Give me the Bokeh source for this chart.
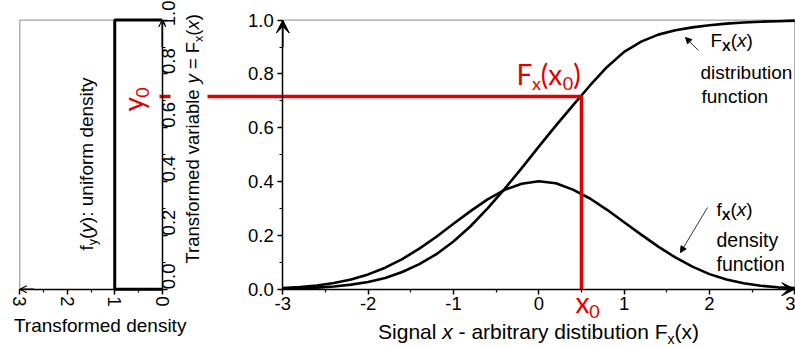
import math

from bokeh.embed import file_html
from bokeh.models import (Arrow, FixedTicker, Label, LinearAxis, NormalHead, OpenHead, Range1d,
                          VeeHead)
from bokeh.plotting import figure
from bokeh.resources import INLINE

# ---- data -------------------------------------------------------------
signal_x = [-3.0, -2.8, -2.6, -2.4, -2.2, -2.0, -1.8, -1.6, -1.4, -1.2, -1.0, -0.8, -0.6, -0.4, -0.2,
            0.0, 0.2, 0.4, 0.6, 0.8, 1.0, 1.2, 1.4, 1.6, 1.8, 2.0, 2.2, 2.4, 2.6, 2.8, 3.0]
density_fx = [0.004, 0.008, 0.014, 0.023, 0.036, 0.055, 0.080, 0.112, 0.151, 0.195, 0.243, 0.290,
              0.334, 0.369, 0.392, 0.401, 0.394, 0.370, 0.337, 0.295, 0.249, 0.203, 0.158, 0.118,
              0.084, 0.056, 0.036, 0.022, 0.013, 0.007, 0.004]
distribution_Fx = [0.002, 0.003, 0.006, 0.010, 0.017, 0.027, 0.042, 0.064, 0.093, 0.130, 0.177,
                   0.234, 0.300, 0.373, 0.450, 0.530, 0.608, 0.683, 0.757, 0.826, 0.882, 0.920,
                   0.946, 0.962, 0.973, 0.981, 0.987, 0.991, 0.994, 0.996, 0.998]
x0 = 0.5
Fx_x0 = 0.716

uniform_support = [0.0, 1.0]
uniform_level = 1.0

sig_ticks = [-3, -2, -1, 0, 1, 2, 3]
sig_tick_labels = ["-3", "-2", "-1", "0", "1", "2", "3"]
prob_ticks = [0.0, 0.2, 0.4, 0.6, 0.8, 1.0]
prob_tick_labels = ["0.0", "0.2", "0.4", "0.6", "0.8", "1.0"]
dens_ticks = [0, 1, 2, 3]
dens_tick_labels = ["0", "1", "2", "3"]

# ---- page geometry ----------------------------------------------------
W, H = 795, 347
RED = "#e00000"
GREY = "#8a8a8a"
FONT = "Liberation Sans"
RED_FONT = "Lato"

SIG_PX = (282.3, 794.3)    # signal -3 and 3
PROB_PX = (288.7, 19.6)    # probability 0 and 1 (from top)
DENS_PX = (161.7, 19.3)    # transformed density 0 and 3


def lin(pa, pb, va, vb, px):
    return va + (px - pa) * (vb - va) / (pb - pa)


def sig_at(px):
    return lin(SIG_PX[0], SIG_PX[1], -3, 3, px)


def prob_at(py):
    return lin(PROB_PX[0], PROB_PX[1], 0, 1, py)


def dens_at(px):
    return lin(DENS_PX[0], DENS_PX[1], 0, 3, px)


p = figure(width=W, height=H, output_backend="svg", toolbar_location=None,
           x_range=Range1d(sig_at(0), sig_at(W)), y_range=Range1d(prob_at(H), prob_at(0)),
           x_axis_type=None, y_axis_type=None, min_border=0)
p.extra_x_ranges = {"dens": Range1d(dens_at(0), dens_at(W))}
p.outline_line_color = None
p.background_fill_color = "white"
p.border_fill_color = "white"


def midpoints(ticks):
    return [(a + b) / 2 for a, b in zip(ticks[:-1], ticks[1:])]


def styled_axis(ticks, labels, **kw):
    ax = LinearAxis(ticker=FixedTicker(ticks=ticks, minor_ticks=midpoints(ticks)), **kw)
    ax.major_label_overrides = {t: s for t, s in zip(ticks, labels)}
    ax.axis_line_color = "black"
    ax.axis_line_width = 1.5
    ax.major_tick_line_color = "black"
    ax.major_tick_line_width = 1.5
    ax.major_tick_in = 0
    ax.major_tick_out = 5
    ax.minor_tick_line_color = "black"
    ax.minor_tick_line_width = 1.2
    ax.minor_tick_in = 0
    ax.minor_tick_out = 3
    ax.major_label_text_font = FONT
    ax.major_label_text_font_size = "18.5px"
    ax.major_label_text_color = "black"
    return ax


# signal panel axes
ax_sig = styled_axis(sig_ticks, sig_tick_labels, fixed_location=0, bounds=(-3, 3))
ax_sig.major_label_standoff = 3
p.add_layout(ax_sig, "below")
ay_sig = styled_axis(prob_ticks, prob_tick_labels, fixed_location=-3, bounds=(0, 1))
ay_sig.major_label_standoff = 4
p.add_layout(ay_sig, "left")

# transformed-density panel axes
ax_dens = styled_axis(dens_ticks, dens_tick_labels, fixed_location=0, bounds=(0, 3),
                      x_range_name="dens")
ax_dens.major_label_orientation = -math.pi / 2
ax_dens.major_label_standoff = 2
p.add_layout(ax_dens, "below")
ay_dens = styled_axis(prob_ticks, prob_tick_labels, fixed_location=0, bounds=(0, 1),
                      x_range_name="dens")
ay_dens.major_label_orientation = math.pi / 2
ay_dens.major_label_standoff = 1
p.add_layout(ay_dens, "right")

# grey frame sides
p.line([-3, 3, 3], [1, 1, 0], line_color=GREY, line_width=1)
p.line([0, 3, 3], [1, 1, 0], line_color=GREY, line_width=1, x_range_name="dens")


# axis arrow heads
def axis_head(xs, ys, head, rng="default"):
    p.add_layout(Arrow(end=head, x_start=xs[0], y_start=ys[0], x_end=xs[1], y_end=ys[1],
                       line_color="black", line_width=1.5, x_range_name=rng))


axis_head((-3, -3), (0.9, 1.0), VeeHead(size=13, fill_color="black", line_color="black"))
axis_head((2.8, 3.0), (0, 0), VeeHead(size=13, fill_color="black", line_color="black"))
axis_head((2.7, 3.0), (0, 0), OpenHead(size=7, line_color="black", line_width=1.2), "dens")
axis_head((0, 0), (0.9, 1.0), OpenHead(size=7, line_color="black", line_width=1.2), "dens")

# uniform density of the transformed variable
p.line([0, uniform_level, uniform_level, 0],
       [uniform_support[0], uniform_support[0], uniform_support[1], uniform_support[1]],
       line_color="black", line_width=3, x_range_name="dens")

# density and distribution of the signal
p.line(signal_x, density_fx, line_color="black", line_width=2.6, line_join="round")
p.line(signal_x, distribution_Fx, line_color="black", line_width=2.6, line_join="round")

# x0 -> Fx(x0) construction
p.line([x0, x0, sig_at(207)], [0, Fx_x0, Fx_x0], line_color=RED, line_width=3.5)
p.line([dens_at(159), dens_at(170)], [Fx_x0, Fx_x0], line_color=RED, line_width=3.5,
       x_range_name="dens")


# pointer arrows to the curves
def pointer(a, b):
    p.add_layout(Arrow(end=NormalHead(size=6, fill_color="black", line_color="black"),
                       x_start=sig_at(a[0]), y_start=prob_at(a[1]),
                       x_end=sig_at(b[0]), y_end=prob_at(b[1]),
                       line_color="black", line_width=0.8))


pointer((698, 50), (685, 37))
pointer((707, 207), (680, 252))

# ---- text -------------------------------------------------------------
ARIAL = {' ': 278, '-': 333, '(': 333, ')': 333, '.': 278, ':': 278, '=': 584, 'F': 611, 'S': 667,
         'T': 611, 'X': 667, 'a': 556, 'b': 556, 'c': 500, 'd': 556, 'e': 556, 'f': 278, 'g': 556,
         'h': 556, 'i': 222, 'l': 222, 'm': 833, 'n': 556, 'o': 556, 'r': 333, 's': 500, 't': 278,
         'u': 556, 'v': 500, 'x': 500, 'y': 500, '0': 556}
LATO = {'F': 550, 'x': 490, 'y': 490, '(': 300, ')': 300, '0': 580}
BASELINE_FIX = 0.36   # labels sit this fraction of their size below the requested baseline


def width(text, size, table):
    return sum(table.get(c, 556) for c in text) * size / 1000.0


def rich(runs, x, y, angle=0.0, color="black", font=FONT, table=ARIAL, center=False):
    """Lay out text runs (text, size, style, baseline shift) from a baseline start in page px."""
    total = sum(width(t, s, table) for t, s, _, _ in runs)
    adv = -total / 2 if center else 0.0
    for text, size, style, shift in runs:
        body = text.strip(" ")
        lead = len(text) - len(text.lstrip(" "))
        adv += width(" " * lead, size, table)
        down = shift - BASELINE_FIX * size
        if angle == 0:
            px, py = x + adv, y + down
        else:
            px, py = x + down, y - adv
        p.add_layout(Label(x=px, y=H - py, x_units="screen", y_units="screen", text=body,
                           angle=angle, text_font=font, text_font_size=f"{size}px",
                           text_font_style=style, text_color=color, text_align="left",
                           text_baseline="alphabetic"))
        adv += width(text[lead:], size, table)


# axis titles
rich([("Signal ", 21, "normal", 0), ("x", 21, "italic", 0),
      (" - arbitrary distibution F", 21, "normal", 0), ("x", 14, "normal", 5),
      ("(x)", 21, "normal", 0)], 538, 339, center=True)
rich([("Transformed density", 19, "normal", 0)], 100, 332, center=True)
rich([("Transformed variable ", 18.5, "normal", 0), ("y", 18.5, "italic", 0),
      (" = F", 18.5, "normal", 0), ("x", 12.5, "normal", 4), ("(", 18.5, "normal", 0),
      ("x", 18.5, "italic", 0), (")", 18.5, "normal", 0)], 199, 263, angle=math.pi / 2)
rich([("f", 19, "normal", 0), ("y", 12.5, "normal", 4), ("(", 19, "normal", 0),
      ("y", 19, "italic", 0), ("): uniform density", 19, "normal", 0)], 93, 250, angle=math.pi / 2)

# curve notes
rich([("F", 19, "normal", 0), ("X", 13, "bold", 4), ("(", 19, "normal", 0),
      ("x", 19, "italic", 0), (")", 19, "normal", 0)], 710, 47)
rich([("distribution", 19, "normal", 0)], 700, 79)
rich([("function", 19, "normal", 0)], 701, 103)
rich([("f", 19, "normal", 0), ("X", 13, "bold", 4), ("(", 19, "normal", 0),
      ("x", 19, "italic", 0), (")", 19, "normal", 0)], 716, 216)
rich([("density", 19.5, "normal", 0)], 716, 247)
rich([("function", 19.5, "normal", 0)], 716, 271)

# red markers of the construction
rich([("F", 28, "normal", 0), ("x", 18, "normal", 5), ("(x", 28, "normal", 0),
      ("0", 18, "normal", 5), (")", 28, "normal", 0)], 516, 84, color=RED, font=RED_FONT, table=LATO)
rich([("x", 28, "normal", 0), ("0", 18, "normal", 5)], 575, 312, color=RED, font=RED_FONT, table=LATO)
rich([("y", 28, "normal", 0), ("0", 18, "normal", 5)], 143, 111, angle=math.pi / 2,
     color=RED, font=RED_FONT, table=LATO)

open("out.html", "w").write(file_html(p, INLINE))
